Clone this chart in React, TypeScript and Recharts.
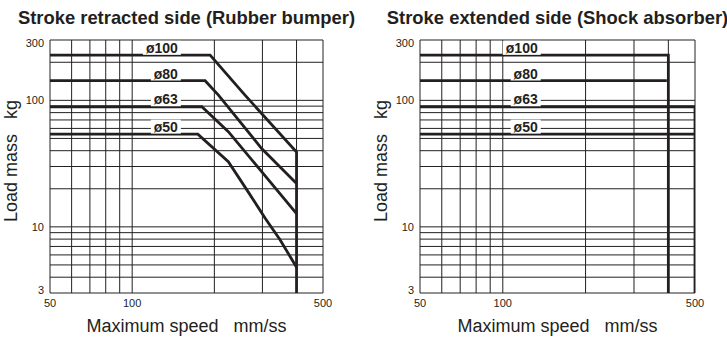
import { LineChart, Line, XAxis, YAxis, CartesianGrid, ReferenceDot } from 'recharts'

// axes (log-log)
const speedTicks = [50, 60, 70, 80, 90, 100, 200, 300, 400, 500]
const speedLabels = [50, 100, 500]
const massTicks = [3, 4, 5, 6, 7, 8, 9, 10, 20, 30, 40, 50, 60, 70, 80, 90, 100, 200, 300]
const massLabels = [3, 10, 100, 300]

const bores = ['ø100', 'ø80', 'ø63', 'ø50']
const tagMass = [260, 163, 102, 62]

// stroke retracted side (rubber bumper): [speed mm/s, load mass kg]
const retracted100 = [[50, 228], [193, 228], [259, 110], [400, 39], [400, 3]]
const retracted80 = [[50, 143], [185, 143], [207, 110], [298, 41.6], [400, 22]]
const retracted63 = [[50, 89], [180, 89], [225, 56.6], [298, 27.3], [400, 12.7]]
const retracted50 = [[50, 54], [174, 54], [225, 32.7], [266, 18.9], [307, 11.7], [348, 7.9], [400, 4.8]]

// stroke extended side (shock absorber)
const extended100 = [[50, 228], [400, 228], [400, 3]]
const extended80 = [[50, 143], [395, 143]]
const extended63 = [[50, 89], [500, 89], [500, 3]]
const extended50 = [[50, 54], [500, 54]]

const FONT = "'Liberation Sans', Arial, Helvetica, sans-serif"
const INK = '#231f20'
const HEIGHT = 337
const TOP = 40
const BOTTOM = 44

const toPoints = (pairs: number[][]) => pairs.map(([speed, mass]) => ({ speed, mass }))

function SpeedTick({ x, y, payload }: any) {
  if (!speedLabels.includes(payload.value)) return null
  return (
    <text x={x} y={y + 14} textAnchor="middle" fontSize={11} fill={INK} fontFamily={FONT}>
      {payload.value}
    </text>
  )
}

function MassTick({ x, y, payload }: any) {
  if (!massLabels.includes(payload.value)) return null
  const shift = payload.value === 300 ? 3 : payload.value === 3 ? -3 : 0
  return (
    <text x={x} y={y + 4 + shift} textAnchor="end" fontSize={11} fill={INK} fontFamily={FONT}>
      {payload.value}
    </text>
  )
}

function BoreTag({ cx, cy, text }: { cx: number; cy: number; text: string }) {
  const w = text.length * 8
  return (
    <g>
      <rect x={cx - w - 3} y={cy - 7} width={w + 6} height={14} fill="#fff" />
      <text x={cx} y={cy + 5} textAnchor="end" fontSize={14} fontWeight="bold" fill={INK} fontFamily={FONT}>
        {text}
      </text>
    </g>
  )
}

interface PanelProps {
  left: number
  width: number
  marginLeft: number
  marginRight: number
  title: string
  series: number[][][]
  tagSpeed: number
}

function Panel({ left, width, marginLeft, marginRight, title, series, tagSpeed }: PanelProps) {
  const plotCenter = marginLeft + (width - marginLeft - marginRight) / 2
  return (
    <div style={{ position: 'absolute', left, top: 0, width, height: HEIGHT }}>
      <LineChart
        width={width}
        height={HEIGHT}
        margin={{ top: TOP, bottom: BOTTOM - 1, left: marginLeft - 1, right: marginRight }}
      >
        <CartesianGrid stroke="#222" strokeWidth={1} fill="#fff" />
        <XAxis
          type="number"
          dataKey="speed"
          scale="log"
          domain={[50, 500]}
          ticks={speedTicks}
          interval={0}
          allowDataOverflow
          height={1}
          axisLine={false}
          tickLine={false}
          tickSize={0}
          tickMargin={0}
          tick={<SpeedTick />}
        />
        <YAxis
          type="number"
          dataKey="mass"
          scale="log"
          domain={[3, 300]}
          ticks={massTicks}
          interval={0}
          allowDataOverflow
          width={1}
          axisLine={false}
          tickLine={false}
          tickSize={0}
          tickMargin={6}
          tick={<MassTick />}
        />
        {series.map((s, i) => (
          <Line
            key={bores[i]}
            data={toPoints(s)}
            dataKey="mass"
            stroke={INK}
            strokeWidth={2.8}
            strokeLinejoin="miter"
            dot={false}
            activeDot={false}
            isAnimationActive={false}
          />
        ))}
        {bores.map((b, i) => (
          <ReferenceDot
            key={b}
            x={tagSpeed}
            y={tagMass[i]}
            r={0}
            shape={(p: any) => <BoreTag cx={p.cx} cy={p.cy} text={b} />}
          />
        ))}
      </LineChart>
      <svg
        width={width}
        height={HEIGHT}
        style={{ position: 'absolute', left: 0, top: 0, pointerEvents: 'none' }}
        fontFamily={FONT}
        fill={INK}
      >
        <text x={plotCenter} y={24} textAnchor="middle" fontSize={18.4} fontWeight="bold">
          {title}
        </text>
        <text x={plotCenter} y={332} textAnchor="middle" fontSize={18} style={{ whiteSpace: 'pre' }}>
          {'Maximum speed   mm/ss'}
        </text>
        <text
          x={marginLeft - 33}
          y={161}
          textAnchor="middle"
          fontSize={18}
          transform={`rotate(-90 ${marginLeft - 33} 161)`}
          style={{ whiteSpace: 'pre' }}
        >
          {'Load mass   kg'}
        </text>
      </svg>
    </div>
  )
}

export default function App() {
  return (
    <div style={{ position: 'absolute', left: 0, top: 0, width: 727, height: HEIGHT, background: '#fff' }}>
      <Panel
        left={0}
        width={360}
        marginLeft={50}
        marginRight={37}
        title="Stroke retracted side (Rubber bumper)"
        series={[retracted100, retracted80, retracted63, retracted50]}
        tagSpeed={147}
      />
      <Panel
        left={360}
        width={367}
        marginLeft={60}
        marginRight={32}
        title="Stroke extended side (Shock absorber)"
        series={[extended100, extended80, extended63, extended50]}
        tagSpeed={134}
      />
    </div>
  )
}
